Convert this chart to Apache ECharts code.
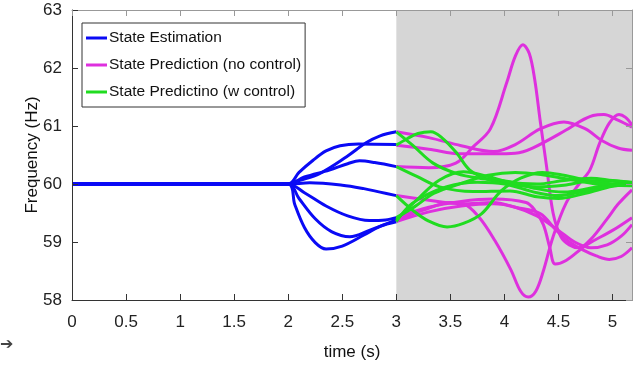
<!DOCTYPE html>
<html>
<head>
<meta charset="utf-8">
<script src="https://cdn.jsdelivr.net/npm/echarts@6/dist/echarts.min.js"></script>
<style>
html, body { margin: 0; padding: 0; background: #fff; }
#main { width: 634px; height: 367px; }
</style>
</head>
<body>
<div id="main"></div>
<script>
// tick labels / ranges
var xTicks = [0, 0.5, 1, 1.5, 2, 2.5, 3, 3.5, 4, 4.5, 5];
var yTicks = [58, 59, 60, 61, 62, 63];
var xEnd = 5.18;
var shadeStart = 3;

var legendNames = ['State Estimation', 'State Prediction (no control)', 'State Predictino (w control)'];

// state estimation, [time, freq]
var est1 = [[0, 60], [2, 60], [2.1, 60.06], [2.29, 60.18], [2.54, 60.47], [2.72, 60.71], [2.85, 60.83], [3, 60.9]];
var est2 = [[0, 60], [2, 60], [2.1, 60.2], [2.23, 60.41], [2.35, 60.57], [2.48, 60.66], [2.65, 60.69], [3, 60.68]];
var est3 = [[0, 60], [2, 60], [2.15, 60.12], [2.38, 60.24], [2.55, 60.35], [2.66, 60.4], [2.8, 60.37], [3, 60.3]];
var est4 = [[0, 60], [2, 60], [2.2, 60.02], [2.5, 59.98], [2.7, 59.92], [2.85, 59.86], [3, 59.8]];
var est5 = [[0, 60], [2, 60], [2.15, 59.85], [2.35, 59.62], [2.55, 59.45], [2.75, 59.37], [2.9, 59.38], [3, 59.42]];
var est6 = [[0, 60], [2, 60], [2.1, 59.75], [2.25, 59.4], [2.4, 59.18], [2.57, 59.09], [2.75, 59.2], [3, 59.38]];
var est7 = [[0, 60], [2, 60], [2.06, 59.65], [2.15, 59.25], [2.25, 58.99], [2.35, 58.88], [2.5, 58.93], [2.7, 59.12], [2.85, 59.27], [3, 59.35]];

// prediction without control
var pred1 = [[3, 60.9], [3.3, 60.8], [3.6, 60.66], [3.9, 60.56], [4.1, 60.68], [4.33, 60.95], [4.55, 61.07], [4.75, 60.95], [4.9, 60.75], [5.05, 60.62], [5.18, 60.58]];
var pred2 = [[3, 60.67], [3.3, 60.6], [3.6, 60.52], [3.9, 60.52], [4.1, 60.53], [4.26, 60.62], [4.57, 60.93], [4.7, 61.08], [4.82, 61.18], [4.92, 61.2], [5.05, 61.1], [5.18, 60.98]];
var pred3 = [[3, 60.3], [3.3, 60.28], [3.55, 60.36], [3.71, 60.64], [3.87, 60.95], [4.02, 61.74], [4.1, 62.2], [4.17, 62.4], [4.23, 62.25], [4.28, 61.8], [4.33, 61.1], [4.39, 60.3], [4.45, 59.5], [4.52, 59.1], [4.6, 58.95], [4.69, 58.9], [4.8, 59.05], [4.95, 59.4], [5.05, 59.65], [5.18, 59.9]];
var pred4 = [[3, 59.8], [3.3, 59.72], [3.6, 59.66], [3.9, 59.68], [4.1, 59.6], [4.33, 59.49], [4.48, 59.2], [4.6, 59.0], [4.73, 58.86], [4.85, 58.76], [4.97, 58.7], [5.08, 58.75], [5.18, 58.9]];
var pred5 = [[3, 59.42], [3.3, 59.6], [3.6, 59.7], [3.9, 59.74], [4.2, 59.68], [4.28, 59.55], [4.36, 59.3], [4.42, 58.9], [4.47, 58.62], [4.57, 58.68], [4.76, 58.95], [5.0, 59.2], [5.18, 59.42]];
var pred6 = [[3, 59.38], [3.25, 59.55], [3.5, 59.68], [3.62, 59.66], [3.76, 59.44], [3.91, 59.03], [4.06, 58.52], [4.15, 58.15], [4.22, 58.05], [4.29, 58.15], [4.36, 58.5], [4.45, 59.09], [4.57, 59.67], [4.69, 60.0], [4.79, 60.24], [4.88, 60.7], [4.97, 61.05], [5.06, 61.2], [5.12, 61.15], [5.18, 61.02]];
var pred7 = [[3, 59.35], [3.3, 59.52], [3.6, 59.62], [3.9, 59.66], [4.1, 59.6], [4.3, 59.45], [4.5, 59.2], [4.65, 59.0], [4.8, 58.9], [4.95, 58.95], [5.08, 59.1], [5.18, 59.3]];

// prediction with control
var ctrl1 = [[3, 60.9], [3.15, 60.67], [3.34, 60.36], [3.56, 60.18], [3.77, 60.1], [4.05, 60.04], [4.3, 59.92], [4.55, 59.86], [4.8, 59.93], [5.0, 60.0], [5.18, 60.02]];
var ctrl2 = [[3, 60.67], [3.1, 60.78], [3.2, 60.87], [3.32, 60.9], [3.42, 60.8], [3.56, 60.53], [3.68, 60.24], [3.86, 60.07], [4.05, 60.0], [4.3, 59.95], [4.55, 59.98], [4.8, 60.05], [5.0, 60.05], [5.18, 60.02]];
var ctrl3 = [[3, 60.3], [3.19, 60.13], [3.4, 59.95], [3.71, 59.87], [4.05, 59.88], [4.3, 59.78], [4.5, 59.75], [4.75, 59.84], [5.0, 59.96], [5.18, 60.0]];
var ctrl4 = [[3, 59.8], [3.15, 59.55], [3.3, 59.36], [3.47, 59.26], [3.62, 59.32], [3.79, 59.49], [3.97, 59.88], [4.15, 60.1], [4.35, 60.2], [4.55, 60.15], [4.8, 60.05], [5.0, 60.0], [5.18, 59.98]];
var ctrl5 = [[3, 59.42], [3.17, 59.61], [3.35, 59.84], [3.6, 60.01], [3.85, 60.15], [4.1, 60.2], [4.35, 60.16], [4.6, 60.08], [4.85, 60.0], [5.18, 59.97]];
var ctrl6 = [[3, 59.38], [3.22, 59.78], [3.4, 60.07], [3.62, 60.21], [3.85, 60.13], [4.05, 60.03], [4.3, 60.0], [4.55, 60.06], [4.8, 60.1], [5.0, 60.06], [5.18, 60.03]];
var ctrl7 = [[3, 59.35], [3.15, 59.67], [3.46, 59.95], [3.75, 60.03], [4.0, 60.0], [4.3, 59.85], [4.5, 59.8], [4.75, 59.88], [5.0, 59.97], [5.18, 60.0]];

var estList = [est1, est2, est3, est4, est5, est6, est7];
var predList = [pred1, pred2, pred3, pred4, pred5, pred6, pred7];
var ctrlList = [ctrl1, ctrl2, ctrl3, ctrl4, ctrl5, ctrl6, ctrl7];
var colors = ['#0a0af5', '#de30de', '#20dc20'];

var fontName = '"Liberation Sans", Arial, sans-serif';

function makeLine(data, name, color) {
	return {
		type: 'line',
		name: name,
		data: data,
		smooth: 0.35,
		showSymbol: false,
		symbol: 'none',
		silent: true,
		z: 3,
		lineStyle: { width: 3, color: color },
		itemStyle: { color: color }
	};
}

function axisBase(pos, lineColor) {
	return {
		type: 'value',
		position: pos,
		z: 10,
		axisLine: { show: true, onZero: false, lineStyle: { color: lineColor, width: 1 } },
		axisTick: { show: true, inside: true, length: 6, lineStyle: { color: lineColor } },
		splitLine: { show: false }
	};
}

var chart = echarts.init(document.getElementById('main'));

var series = [];
// grey area after t = 3
series.push({
	type: 'line',
	data: [],
	z: 1,
	silent: true,
	markArea: {
		silent: true,
		itemStyle: { color: '#d6d6d6' },
		data: [[{ xAxis: shadeStart }, { xAxis: xEnd }]]
	}
});
for (var i = 0; i < estList.length; i++) series.push(makeLine(estList[i], legendNames[0], colors[0]));
for (var i = 0; i < predList.length; i++) series.push(makeLine(predList[i], legendNames[1], colors[1]));
for (var i = 0; i < ctrlList.length; i++) series.push(makeLine(ctrlList[i], legendNames[2], colors[2]));

var xBottom = axisBase('bottom', '#333');
xBottom.min = xTicks[0];
xBottom.max = xEnd;
xBottom.interval = 0.5;
xBottom.name = 'time (s)';
xBottom.nameLocation = 'middle';
xBottom.nameGap = 44;
xBottom.nameMoveOverlap = false;
xBottom.nameTextStyle = { fontFamily: fontName, fontSize: 17, color: '#111' };
xBottom.axisLabel = { show: true, margin: 14, fontFamily: fontName, fontSize: 17, color: '#222', showMaxLabel: false };

var xTop = axisBase('top', '#999');
xTop.min = xTicks[0];
xTop.max = xEnd;
xTop.interval = 0.5;
xTop.axisLabel = { show: false };

var yLeft = axisBase('left', '#333');
yLeft.min = yTicks[0];
yLeft.max = yTicks[yTicks.length - 1];
yLeft.interval = 1;
yLeft.name = 'Frequency (Hz)';
yLeft.nameLocation = 'middle';
yLeft.nameRotate = 90;
yLeft.nameGap = 31;
yLeft.nameMoveOverlap = false;
yLeft.nameTextStyle = { fontFamily: fontName, fontSize: 17, color: '#111' };
yLeft.axisLabel = { show: true, margin: 10, fontFamily: fontName, fontSize: 17, color: '#222' };

var yRight = axisBase('right', '#999');
yRight.min = yTicks[0];
yRight.max = yTicks[yTicks.length - 1];
yRight.interval = 1;
yRight.axisLabel = { show: false };

var option = {
	animation: false,
	backgroundColor: '#fff',
	grid: { left: 72, right: 2, top: 10, bottom: 67 },
	legend: {
		data: legendNames,
		orient: 'vertical',
		left: 82,
		top: 23,
		z: 20,
		icon: 'rect',
		itemWidth: 21,
		itemHeight: 3,
		itemGap: 7,
		padding: [5, 4, 5, 4],
		backgroundColor: '#fff',
		borderColor: '#333',
		borderWidth: 1,
		borderRadius: 0,
		selectedMode: false,
		textStyle: { fontFamily: fontName, fontSize: 15.5, lineHeight: 20, color: '#111', padding: [0, 0, 0, -3] }
	},
	xAxis: [xBottom, xTop],
	yAxis: [yLeft, yRight],
	graphic: [{
		type: 'text',
		left: 0,
		top: 337,
		style: { text: '\u2794', fontSize: 16, fill: '#444', fontFamily: 'DejaVu Sans' }
	}],
	series: series
};

chart.setOption(option);
</script>
</body>
</html>
